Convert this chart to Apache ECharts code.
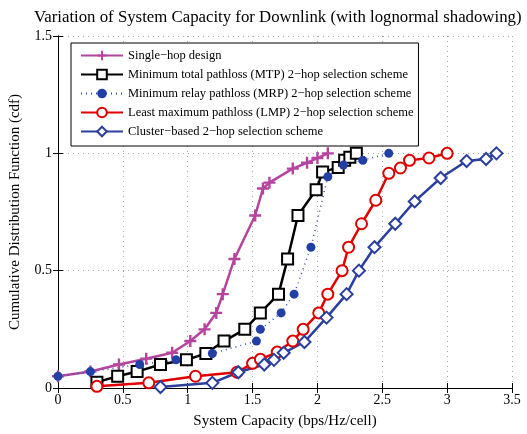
<!DOCTYPE html>
<html>
<head>
<meta charset="utf-8">
<script src="https://cdn.jsdelivr.net/npm/echarts@6/dist/echarts.min.js"></script>
<style>
  html, body { margin: 0; padding: 0; background: #fff; }
  #main { width: 527px; height: 434px; }
</style>
</head>
<body>
<div id="main"></div>
<script>
// series names (legend order)
var seriesNames = [
  'Single\u2212hop design',
  'Minimum total pathloss (MTP) 2\u2212hop selection scheme',
  'Minimum relay pathloss (MRP) 2\u2212hop selection scheme',
  'Least maximum pathloss (LMP) 2\u2212hop selection scheme',
  'Cluster\u2212based 2\u2212hop selection scheme'
];

// [capacity, cdf] pairs
var singleHop = [
  [0, 0.05], [0.25, 0.07], [0.47, 0.10], [0.68, 0.125], [0.88, 0.15],
  [1.02, 0.20], [1.13, 0.25], [1.22, 0.32], [1.27, 0.40], [1.36, 0.55],
  [1.52, 0.735], [1.58, 0.85], [1.63, 0.875], [1.81, 0.935], [1.92, 0.96],
  [2.0, 0.98], [2.08, 1.0]
];
var mtp = [
  [0.30, 0.025], [0.46, 0.05], [0.61, 0.07], [0.79, 0.10], [0.99, 0.12],
  [1.14, 0.147], [1.28, 0.20], [1.44, 0.25], [1.56, 0.32], [1.70, 0.40],
  [1.77, 0.55], [1.85, 0.735], [1.99, 0.845], [2.04, 0.92], [2.16, 0.94],
  [2.21, 0.97], [2.25, 0.983], [2.30, 1.0]
];
var mrp = [
  [0, 0.05], [0.25, 0.07], [0.63, 0.10], [0.91, 0.12], [1.19, 0.147],
  [1.53, 0.20], [1.56, 0.25], [1.72, 0.32], [1.82, 0.40], [1.95, 0.60],
  [2.08, 0.90], [2.20, 0.95], [2.35, 0.97], [2.55, 1.0]
];
var lmp = [
  [0.30, 0.007], [0.70, 0.022], [1.06, 0.05], [1.38, 0.067], [1.50, 0.105],
  [1.56, 0.122], [1.69, 0.153], [1.81, 0.20], [1.89, 0.25], [2.01, 0.32],
  [2.08, 0.40], [2.19, 0.50], [2.24, 0.60], [2.34, 0.70], [2.45, 0.80],
  [2.55, 0.915], [2.64, 0.9375], [2.71, 0.97], [2.86, 0.98], [3.0, 1.0]
];
var cluster = [
  [0.79, 0.004], [1.19, 0.022], [1.39, 0.067], [1.59, 0.10], [1.665, 0.12],
  [1.74, 0.15], [1.90, 0.196], [2.07, 0.30], [2.225, 0.40], [2.32, 0.50],
  [2.44, 0.60], [2.60, 0.70], [2.75, 0.795], [2.95, 0.895], [3.15, 0.967],
  [3.30, 0.976], [3.38, 1.0]
];

var serif = 'Liberation Serif';
var plusPath = 'path://M4,0 L6,0 L6,4 L10,4 L10,6 L6,6 L6,10 L4,10 L4,6 L0,6 L0,4 L4,4 Z';

var chart = echarts.init(document.getElementById('main'), null, { renderer: 'canvas' });

var tickAxis = {
  axisLine: { show: true, lineStyle: { color: '#000', width: 1 } },
  axisTick: { show: true, inside: true, length: 5, lineStyle: { color: '#000' } },
  axisLabel: { show: false },
  splitLine: { show: false }
};

var option = {
  backgroundColor: '#fff',
  animation: false,
  title: {
    text: 'Variation of System Capacity for Downlink (with lognormal shadowing)',
    left: 29,
    top: 4,
    textStyle: { fontFamily: serif, fontSize: 16.8, fontWeight: 'normal', color: '#000' }
  },
  grid: { left: 58, right: 15, top: 36, bottom: 38, containLabel: false },
  legend: {
    orient: 'vertical',
    left: 71,
    top: 43,
    itemWidth: 42,
    itemHeight: 12,
    itemGap: 6,
    padding: [6, 5, 8, 9],
    backgroundColor: '#fff',
    borderColor: '#000',
    borderWidth: 1,
    textStyle: { fontFamily: serif, fontSize: 12.5, color: '#000' },
    data: seriesNames
  },
  xAxis: [{
    type: 'value', min: 0, max: 3.5, interval: 0.5, position: 'bottom',
    name: 'System Capacity (bps/Hz/cell)', nameLocation: 'middle', nameGap: 26,
    nameTextStyle: { fontFamily: serif, fontSize: 15, color: '#000' },
    axisLine: { show: true, lineStyle: { color: '#000' } },
    axisTick: { show: true, inside: true, length: 5, lineStyle: { color: '#000' } },
    axisLabel: { fontFamily: serif, fontSize: 14, color: '#000', margin: 5 },
    splitLine: { show: true, lineStyle: { color: '#a8a8a8', type: [1, 4], width: 1 } }
  }, Object.assign({ type: 'value', min: 0, max: 3.5, interval: 0.5, position: 'top' }, tickAxis)],
  yAxis: [{
    type: 'value', min: 0, max: 1.5, interval: 0.5, position: 'left',
    name: 'Cumulative Distribution Function (cdf)', nameLocation: 'middle', nameGap: 35,
    nameTextStyle: { fontFamily: serif, fontSize: 15, color: '#000' },
    axisLine: { show: true, lineStyle: { color: '#000' } },
    axisTick: { show: true, inside: true, length: 5, lineStyle: { color: '#000' } },
    axisLabel: { fontFamily: serif, fontSize: 14, color: '#000', margin: 6 },
    splitLine: { show: true, lineStyle: { color: '#a8a8a8', type: [1, 4], width: 1 } }
  }, Object.assign({ type: 'value', min: 0, max: 1.5, interval: 0.5, position: 'right' }, tickAxis)],
  series: [{
    name: seriesNames[0], type: 'line', data: singleHop,
    symbol: plusPath, symbolSize: 12,
    lineStyle: { color: '#b4449e', width: 2.5 },
    itemStyle: { color: '#b4449e' }
  }, {
    name: seriesNames[1], type: 'line', data: mtp,
    symbol: 'emptyRect', symbolSize: 11,
    lineStyle: { color: '#000', width: 2.5 },
    itemStyle: { color: '#000', borderWidth: 2 }
  }, {
    name: seriesNames[2], type: 'line', data: mrp,
    symbol: 'circle', symbolSize: 9,
    lineStyle: { color: '#3050b8', width: 1.5, type: [1, 4] },
    itemStyle: { color: '#2040a8' }
  }, {
    name: seriesNames[3], type: 'line', data: lmp,
    symbol: 'emptyCircle', symbolSize: 11,
    lineStyle: { color: '#e00000', width: 2.5 },
    itemStyle: { color: '#e00000', borderWidth: 2 }
  }, {
    name: seriesNames[4], type: 'line', data: cluster,
    symbol: 'emptyDiamond', symbolSize: 12,
    lineStyle: { color: '#2a3f9e', width: 2.5 },
    itemStyle: { color: '#2a3f9e', borderWidth: 2 }
  }]
};

chart.setOption(option);
</script>
</body>
</html>
